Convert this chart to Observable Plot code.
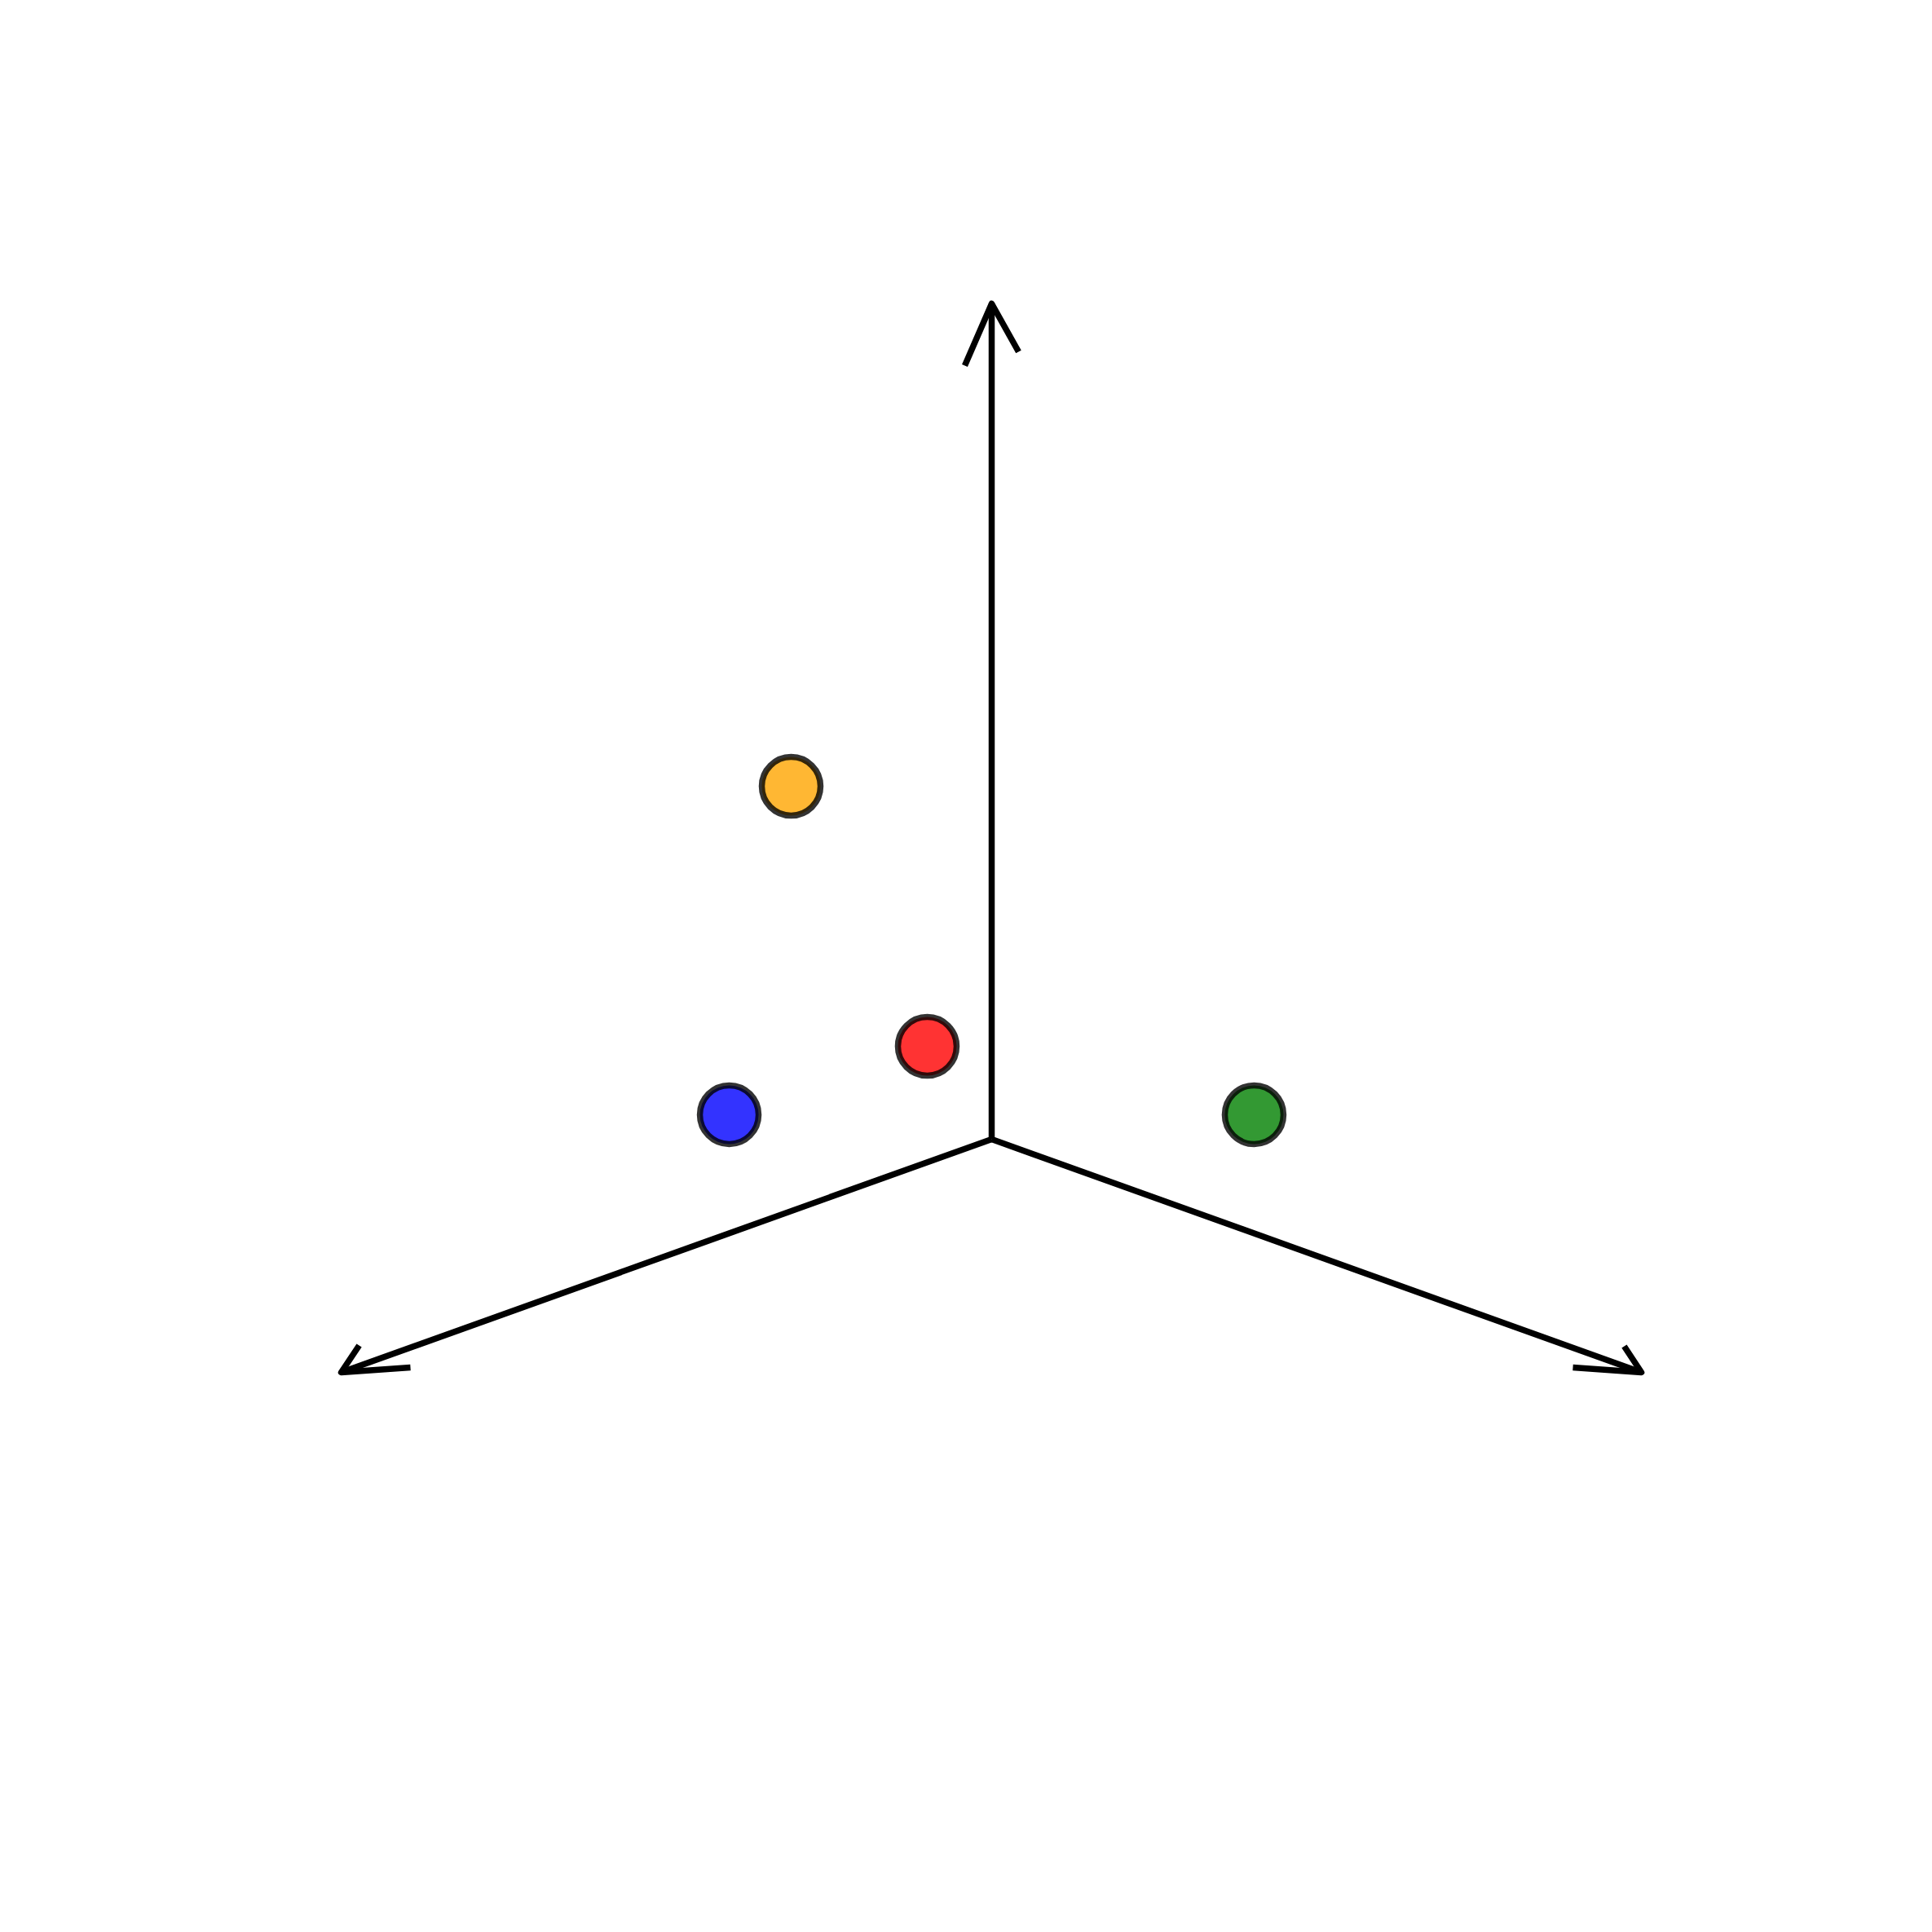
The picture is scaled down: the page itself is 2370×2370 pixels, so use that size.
<!DOCTYPE html>
<html>
<head>
<meta charset="utf-8">
<script src="https://cdn.jsdelivr.net/npm/d3@7"></script>
<script src="https://cdn.jsdelivr.net/npm/@observablehq/plot@0.6"></script>
<style>
  html, body { margin: 0; padding: 0; background: #ffffff; }
  #chart svg { display: block; }
</style>
</head>
<body>
<div id="chart"></div>
<script>
// Projected coordinates (origin of the three axes at 0,0; vertical axis length = 1)
const axisNames = ["left", "right", "up"];
const axisTipX = [-0.7785, 0.7776, 0.0];
const axisTipY = [-0.2790, -0.2790, 1.0];
// arrowhead barb ends (two per axis)
const barbAX = [-0.7570, 0.7570, -0.0322];
const barbAY = [-0.2468, -0.2478, 0.9259];
const barbBX = [-0.6956, 0.6956, 0.0322];
const barbBY = [-0.2732, -0.2732, 0.9424];

// points
const pointNames = ["orange", "red", "blue", "green"];
const pointX = [-0.2400, -0.0771, -0.3141, 0.3141];
const pointY = [0.4224, 0.1112, 0.0293, 0.0293];
const pointColors = ["#ffa500", "#ff0000", "#0000ff", "#008000"];

const W = 2370, H = 2370;
const xDomain = [-1.18634, 1.12585];
const yDomain = [-0.94927, 1.36293];

const axes = axisNames.map((n, i) => ({name: n, x1: 0, y1: 0, x2: axisTipX[i], y2: axisTipY[i]}));
const heads = [];
axisNames.forEach((n, i) => {
  heads.push({name: n, x: barbAX[i], y: barbAY[i]});
  heads.push({name: n, x: axisTipX[i], y: axisTipY[i]});
  heads.push({name: n, x: barbBX[i], y: barbBY[i]});
});
const points = pointNames.map((n, i) => ({name: n, x: pointX[i], y: pointY[i], color: pointColors[i]}));

const chart = Plot.plot({
  width: W,
  height: H,
  margin: 0,
  x: {domain: xDomain, axis: null},
  y: {domain: yDomain, axis: null},
  marks: [
    Plot.link(axes, {x1: "x1", y1: "y1", x2: "x2", y2: "y2", stroke: "black", strokeWidth: 7.5, strokeLinecap: "butt"}),
    Plot.line(heads, {x: "x", y: "y", z: "name", stroke: "black", strokeWidth: 7.5, strokeLinecap: "butt", strokeLinejoin: "round", curve: "linear"}),
    Plot.dot(points, {x: "x", y: "y", r: 36, fill: "color", fillOpacity: 0.8, stroke: "black", strokeOpacity: 0.8, strokeWidth: 7.5})
  ]
});
document.getElementById("chart").appendChild(chart);
</script>
</body>
</html>
